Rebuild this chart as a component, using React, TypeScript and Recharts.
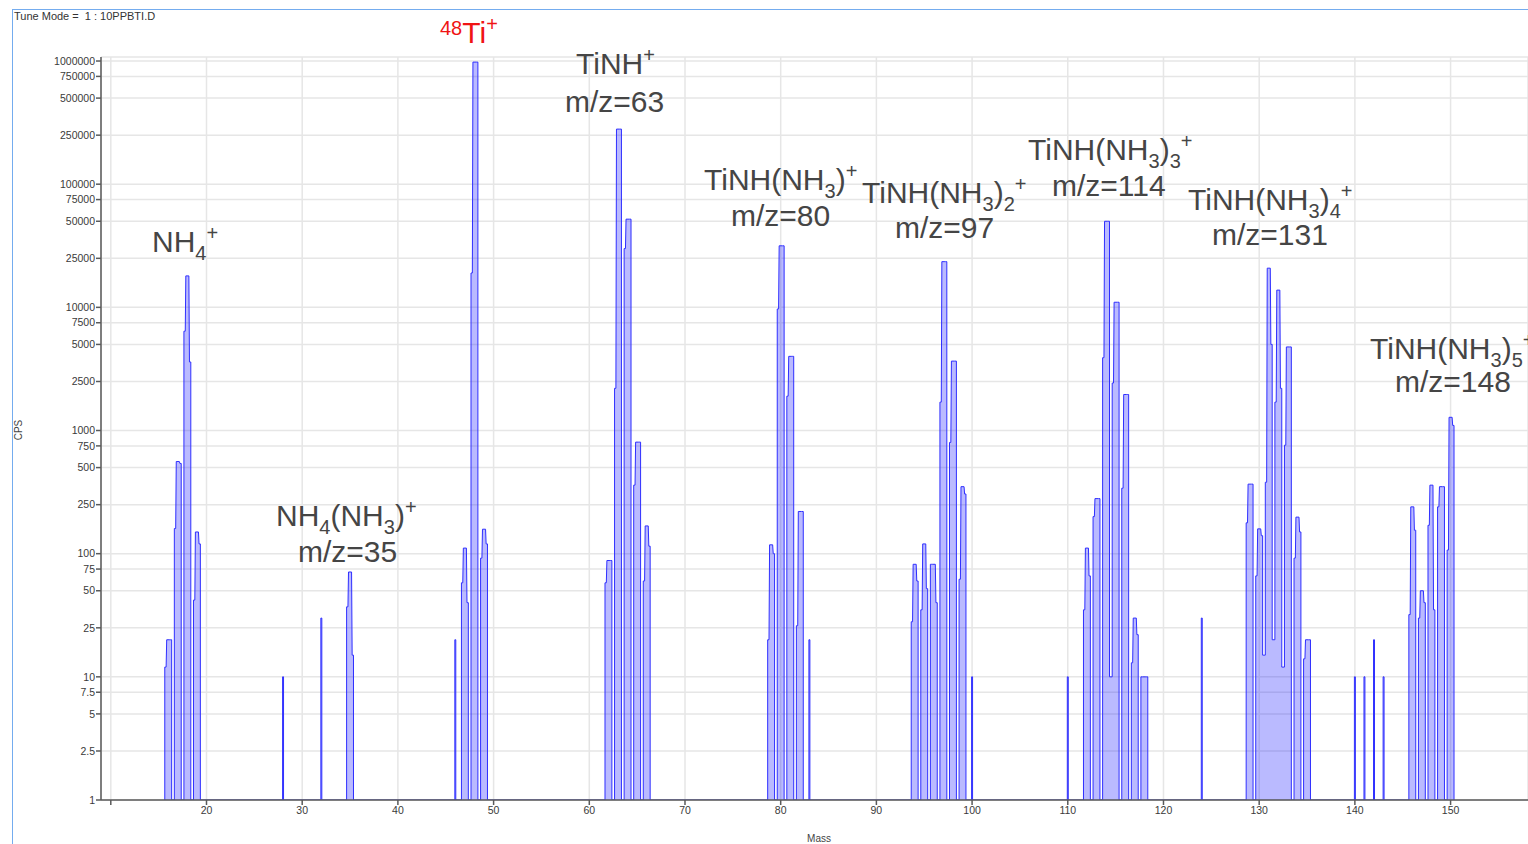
import { AreaChart, Area, XAxis, YAxis, CartesianGrid } from "recharts";

// peak profiles: [mass, left shoulder, top, right shoulder] in CPS
const nh4Peaks = [
  [16, 12, 20, 20],
  [17, 160, 560, 540],
  [18, 6400, 18000, 3600],
  [19, 42, 150, 120],
  [35, 37, 71, 15],
];
const tiPeaks = [
  [47, 58, 111, 40],
  [48, 19000, 980000, 980000],
  [49, 92, 158, 120],
];
const tinhPeaks = [
  [62, 58, 88, 88],
  [63, 2200, 280000, 280000],
  [64, 30000, 52000, 52000],
  [65, 360, 805, 805],
  [66, 60, 168, 115],
];
const tinh1Peaks = [
  [79, 20, 118, 100],
  [80, 9700, 31600, 31600],
  [81, 1900, 4000, 4000],
  [82, 26, 220, 220],
];
const tinh2Peaks = [
  [94, 28, 82, 60],
  [95, 35, 120, 52],
  [96, 82, 82, 40],
  [97, 1700, 23500, 23500],
  [98, 800, 3660, 3660],
  [99, 62, 350, 305],
];
const tinh3Peaks = [
  [112, 35, 111, 66],
  [113, 200, 280, 280],
  [114, 3900, 50000, 50000],
  [115, 2430, 11000, 11000],
  [116, 340, 1960, 1960],
  [117, 13, 30, 22],
  [118, 10, 10, 10],
];
const tinh4Peaks = [
  [129, 178, 367, 367],
  [130, 66, 159, 140],
  [131, 380, 20800, 5000],
  [132, 1700, 13800, 2200],
  [133, 760, 4770, 4770],
  [134, 92, 198, 150],
  [135, 14, 20, 20],
];
const tinh5Peaks = [
  [146, 32, 240, 155],
  [147, 30, 50, 40],
  [148, 170, 360, 35],
  [149, 240, 350, 350],
  [150, 107, 1280, 1100],
];
// single hits: [mass, CPS]
const spikes = [
  [28, 10], [32, 30], [46, 20], [83, 20], [100, 10], [110, 10],
  [124, 30], [140, 10], [141, 10], [142, 20], [143, 10],
];
// where the signal between two masses does not drop to the floor
const valleys = [
  [114.5, 10], [130.5, 15], [131.5, 20], [132.5, 12],
];

const massTicks = [10, 20, 30, 40, 50, 60, 70, 80, 90, 100, 110, 120, 130, 140, 150];
const cpsTicks = [
  1, 2.5, 5, 7.5, 10, 25, 50, 75, 100, 250, 500, 750, 1000, 2500, 5000, 7500,
  10000, 25000, 50000, 75000, 100000, 250000, 500000, 750000, 1000000,
];

const floorAt = (x: number) => {
  const v = valleys.find(([m]) => Math.abs(m - x) < 0.01);
  return v ? v[1] : 1;
};

const buildSpectrum = () => {
  const peaks = [
    ...nh4Peaks, ...tiPeaks, ...tinhPeaks, ...tinh1Peaks, ...tinh2Peaks,
    ...tinh3Peaks, ...tinh4Peaks, ...tinh5Peaks,
  ].map((p) => ({ kind: "peak", p }));
  const hits = spikes.map((p) => ({ kind: "spike", p }));
  const all = [...peaks, ...hits].sort((a, b) => a.p[0] - b.p[0]);
  const pts: { mass: number; cps: number }[] = [];
  all.forEach(({ kind, p }) => {
    const m = p[0];
    if (kind === "spike") {
      const v = p[1];
      pts.push({ mass: m - 0.05, cps: 1 }, { mass: m - 0.05, cps: v }, { mass: m + 0.05, cps: v }, { mass: m + 0.05, cps: 1 });
      return;
    }
    const [, l, t, r] = p;
    pts.push(
      { mass: m - 0.36, cps: floorAt(m - 0.5) },
      { mass: m - 0.36, cps: l },
      { mass: m - 0.22, cps: l },
      { mass: m - 0.16, cps: t },
      { mass: m + 0.16, cps: t },
      { mass: m + 0.22, cps: r },
      { mass: m + 0.36, cps: r },
      { mass: m + 0.36, cps: floorAt(m + 0.5) }
    );
  });
  return pts;
};

const spectrum = buildSpectrum();

type Part = [string, "n" | "sub" | "sup" | "iso"];
const shifts = { n: 0, sub: 8, sup: -12, iso: -8 };

const labels: { x: number; y: number; parts: Part[]; color?: string }[] = [
  { x: 152, y: 252, parts: [["NH", "n"], ["4", "sub"], ["+", "sup"]] },
  { x: 276, y: 526, parts: [["NH", "n"], ["4", "sub"], ["(NH", "n"], ["3", "sub"], [")", "n"], ["+", "sup"]] },
  { x: 298, y: 562, parts: [["m/z=35", "n"]] },
  { x: 440, y: 43, parts: [["48", "iso"], ["Ti", "n"], ["+", "sup"]], color: "#f01414" },
  { x: 576, y: 74, parts: [["TiNH", "n"], ["+", "sup"]] },
  { x: 565, y: 112, parts: [["m/z=63", "n"]] },
  { x: 704, y: 190, parts: [["TiNH(NH", "n"], ["3", "sub"], [")", "n"], ["+", "sup"]] },
  { x: 731, y: 226, parts: [["m/z=80", "n"]] },
  { x: 862, y: 203, parts: [["TiNH(NH", "n"], ["3", "sub"], [")", "n"], ["2", "sub"], ["+", "sup"]] },
  { x: 895, y: 238, parts: [["m/z=97", "n"]] },
  { x: 1028, y: 160, parts: [["TiNH(NH", "n"], ["3", "sub"], [")", "n"], ["3", "sub"], ["+", "sup"]] },
  { x: 1052, y: 196, parts: [["m/z=114", "n"]] },
  { x: 1188, y: 210, parts: [["TiNH(NH", "n"], ["3", "sub"], [")", "n"], ["4", "sub"], ["+", "sup"]] },
  { x: 1212, y: 245, parts: [["m/z=131", "n"]] },
  { x: 1370, y: 359, parts: [["TiNH(NH", "n"], ["3", "sub"], [")", "n"], ["5", "sub"], ["+", "sup"]] },
  { x: 1395, y: 392, parts: [["m/z=148", "n"]] },
];

const FONT = "'Liberation Sans', Arial, sans-serif";

function Formula({ x, y, parts, color }: { x: number; y: number; parts: Part[]; color?: string }) {
  let shift = 0;
  return (
    <text x={x} y={y} fill={color || "#454545"} fontSize={30} fontFamily={FONT}>
      {parts.map(([s, k], i) => {
        const target = shifts[k];
        const dy = target - shift;
        shift = target;
        return (
          <tspan key={i} dy={dy} fontSize={k === "n" ? 30 : 20}>
            {s}
          </tspan>
        );
      })}
    </text>
  );
}

export default function App() {
  const tick = { fill: "#3a3a3a", fontSize: 10.5, fontFamily: FONT };
  return (
    <div style={{ position: "absolute", left: 0, top: 0, width: 1528, height: 844, background: "#fff", overflow: "hidden" }}>
      <AreaChart
        width={1528}
        height={844}
        data={spectrum}
        margin={{ top: 57, right: 0, left: 0, bottom: 14 }}
      >
        <CartesianGrid stroke="#e6e6e6" strokeWidth={1.5} />
        <XAxis
          dataKey="mass"
          type="number"
          domain={[8.976, 158.09]}
          allowDataOverflow
          ticks={massTicks}
          interval={0}
          tickFormatter={(v) => (v === 10 ? "" : String(v))}
          tick={tick}
          tickSize={5}
          tickMargin={2}
          height={30}
          stroke="#5a5a5a"
          strokeWidth={1.5}
        />
        <YAxis
          dataKey="cps"
          scale="log"
          type="number"
          domain={[1, 1078000]}
          allowDataOverflow
          ticks={cpsTicks}
          interval={0}
          tick={tick}
          tickSize={5}
          tickMargin={1}
          width={101}
          stroke="#5a5a5a"
          strokeWidth={1.5}
        />
        <Area
          type="linear"
          dataKey="cps"
          baseValue={1}
          stroke="#2f2fff"
          strokeWidth={1}
          fill="#0000ff"
          fillOpacity={0.27}
          dot={false}
          activeDot={false}
          isAnimationActive={false}
        />
      </AreaChart>
      <svg width={1528} height={844} style={{ position: "absolute", left: 0, top: 0, pointerEvents: "none" }}>
        <line x1={12.5} y1={9} x2={12.5} y2={844} stroke="#74acef" strokeWidth={1} />
        <line x1={12} y1={9.5} x2={1528} y2={9.5} stroke="#74acef" strokeWidth={1} />
        <text x={14} y={20} fontSize={11} fontFamily={FONT} fill="#333" style={{ whiteSpace: "pre" }}>
          Tune Mode =  1 : 10PPBTI.D
        </text>
        <text x={819} y={842} fontSize={10} fontFamily={FONT} fill="#444" textAnchor="middle">
          Mass
        </text>
        <text x={22} y={430} fontSize={10} fontFamily={FONT} fill="#444" textAnchor="middle" transform="rotate(-90 22 430)">
          CPS
        </text>
        {labels.map((l, i) => (
          <Formula key={i} {...l} />
        ))}
      </svg>
    </div>
  );
}
